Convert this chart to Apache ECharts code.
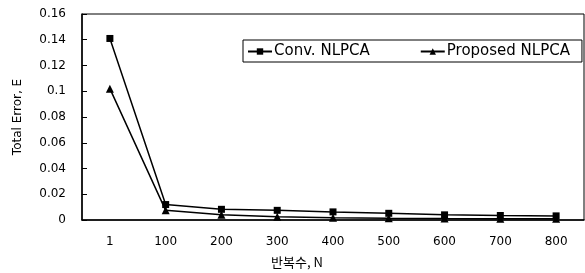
<!DOCTYPE html>
<html>
<head>
    <meta charset="utf-8">
    <title>Total Error</title>
    <script src="https://cdn.jsdelivr.net/npm/echarts@6/dist/echarts.min.js"></script>
    <style>
        html, body { margin: 0; padding: 0; background: #fff; }
        #chart { width: 585px; height: 273px; }
    </style>
</head>
<body>
<div id="chart"></div>
<script>
    // 반복수 (iterations)
    var iterations = ['1', '100', '200', '300', '400', '500', '600', '700', '800'];
    // Conv. NLPCA total error
    var convError = [0.141, 0.012, 0.0083, 0.0075, 0.0063, 0.0052, 0.004, 0.0035, 0.0032];
    // Proposed NLPCA total error
    var proposedError = [0.102, 0.0075, 0.004, 0.0025, 0.0018, 0.0013, 0.0011, 0.001, 0.001];
    var seriesNames = ['Conv. NLPCA', 'Proposed NLPCA'];

    var font = 'DejaVu Sans';
    var myChart = echarts.init(document.getElementById('chart'));
    myChart.setOption({
        animation: false,
        textStyle: { fontFamily: font, color: '#000' },
        title: {
            text: '반복수, N',
            left: 266,
            top: 251,
            textStyle: { fontFamily: 'Noto Sans CJK KR', fontSize: 13, fontWeight: 'normal', color: '#000' }
        },
        legend: {
            data: seriesNames,
            left: 243,
            top: 40,
            itemWidth: 24,
            itemHeight: 8,
            itemGap: 50,
            padding: [4, 12, 3, 4],
            borderColor: '#000',
            borderWidth: 1,
            textStyle: { fontFamily: font, fontSize: 15, color: '#000', padding: [0, 0, 0, -3] }
        },
        grid: {
            left: 82,
            right: 1,
            top: 14,
            bottom: 53,
            show: true,
            borderColor: '#000',
            borderWidth: 1
        },
        xAxis: {
            type: 'category',
            data: iterations,
            boundaryGap: true,
            axisLine: { lineStyle: { color: '#000', width: 1.5 } },
            axisTick: { show: false },
            axisLabel: { color: '#000', fontSize: 12, margin: 16, fontFamily: font }
        },
        yAxis: {
            type: 'value',
            min: 0,
            max: 0.16,
            interval: 0.02,
            name: 'Total Error, E',
            nameLocation: 'middle',
            nameGap: 58,
            nameTextStyle: { fontSize: 12, color: '#000', fontFamily: font },
            axisLine: { show: true, lineStyle: { color: '#000', width: 1.5 } },
            axisTick: { show: true, inside: true, length: 5, lineStyle: { color: '#000' } },
            splitLine: { show: false },
            axisLabel: { color: '#000', fontSize: 12, margin: 16, fontFamily: font }
        },
        series: [
            {
                name: seriesNames[0],
                type: 'line',
                data: convError,
                symbol: 'rect',
                symbolSize: 7,
                itemStyle: { color: '#000' },
                lineStyle: { color: '#000', width: 1.5 }
            },
            {
                name: seriesNames[1],
                type: 'line',
                data: proposedError,
                symbol: 'triangle',
                symbolSize: 8,
                itemStyle: { color: '#000' },
                lineStyle: { color: '#000', width: 1.5 }
            }
        ]
    });
</script>
</body>
</html>
